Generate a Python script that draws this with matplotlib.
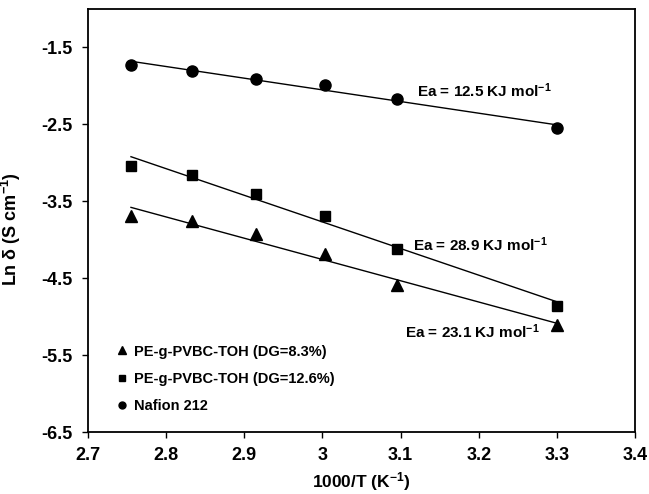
import numpy as np
import matplotlib
matplotlib.use("Agg")
import matplotlib.pyplot as plt

plt.rcParams['font.family'] = ['Liberation Sans', 'DejaVu Sans']
plt.rcParams['font.weight'] = 'bold'
plt.rcParams['mathtext.fontset'] = 'custom'
plt.rcParams['mathtext.rm'] = 'Liberation Sans:bold'
plt.rcParams['mathtext.default'] = 'rm'
plt.rcParams['axes.unicode_minus'] = False

# 1000/T values (K^-1)
inv_T = [2.755, 2.833, 2.915, 3.003, 3.096, 3.300]

# ln(conductivity)
ln_dg83 = [-3.69, -3.76, -3.93, -4.19, -4.59, -5.11]
ln_dg126 = [-3.045, -3.153, -3.405, -3.69, -4.115, -4.864]
ln_nafion = [-1.725, -1.808, -1.906, -1.994, -2.175, -2.552]

labels = ['PE-g-PVBC-TOH (DG=8.3%)', 'PE-g-PVBC-TOH (DG=12.6%)', 'Nafion 212']
ea_texts = ['Ea = 23.1 KJ mol$^{-1}$', 'Ea = 28.9 KJ mol$^{-1}$', 'Ea = 12.5 KJ mol$^{-1}$']
x_ticks = ['2.7', '2.8', '2.9', '3', '3.1', '3.2', '3.3', '3.4']
y_ticks = ['-6.5', '-5.5', '-4.5', '-3.5', '-2.5', '-1.5']

fig = plt.figure(figsize=(6.49, 4.94), dpi=100)
ax = fig.add_axes([0.1356, 0.1255, 0.8428, 0.8563])

x = np.array(inv_T)
series = [(ln_dg83, '^', 8.5, 5.5), (ln_dg126, 's', 7.5, 5.0), (ln_nafion, 'o', 8.0, 5.0)]
handles = []
for (yv, mk, ms, lms), lab in zip(series, labels):
    yv = np.array(yv)
    ax.plot(x, yv, linestyle='none', marker=mk, color='black', markersize=ms)
    k, b = np.polyfit(x, yv, 1)
    xs = np.array([x[0], x[-1]])
    ax.plot(xs, k * xs + b, color='black', linewidth=1.0)
    h, = ax.plot([], [], linestyle='none', marker=mk, color='black', markersize=lms, label=lab)
    handles.append(h)

ax.text(3.294, -2.06, ea_texts[2], fontsize=11, ha='right', va='center')
ax.text(3.289, -4.07, ea_texts[1], fontsize=11, ha='right', va='center')
ax.text(3.278, -5.20, ea_texts[0], fontsize=11, ha='right', va='center')

ax.legend(handles=handles, loc='lower left', bbox_to_anchor=(0.033, 0.02),
          frameon=False, fontsize=10.5, handlelength=0.8, handletextpad=0.45,
          labelspacing=0.92, borderpad=0.2)

ax.set_xlim(2.7, 3.4)
ax.set_ylim(-6.5, -1.0)
ax.set_xticks([2.7, 2.8, 2.9, 3.0, 3.1, 3.2, 3.3, 3.4])
ax.set_xticklabels(x_ticks)
ax.set_yticks([-6.5, -5.5, -4.5, -3.5, -2.5, -1.5])
ax.set_yticklabels(y_ticks)
ax.tick_params(direction='out', length=4, width=1.0, labelsize=13, pad=7)
for sp in ax.spines.values():
    sp.set_linewidth(1.3)

ax.set_xlabel('1000/T (K$^{-1}$)', fontsize=12.5, fontweight='bold', labelpad=4)
ax.set_ylabel('Ln δ (S cm$^{-1}$)', fontsize=13, fontweight='bold')
ax.yaxis.set_label_coords(-0.119, 0.481)

fig.savefig('out.png', dpi=100)
